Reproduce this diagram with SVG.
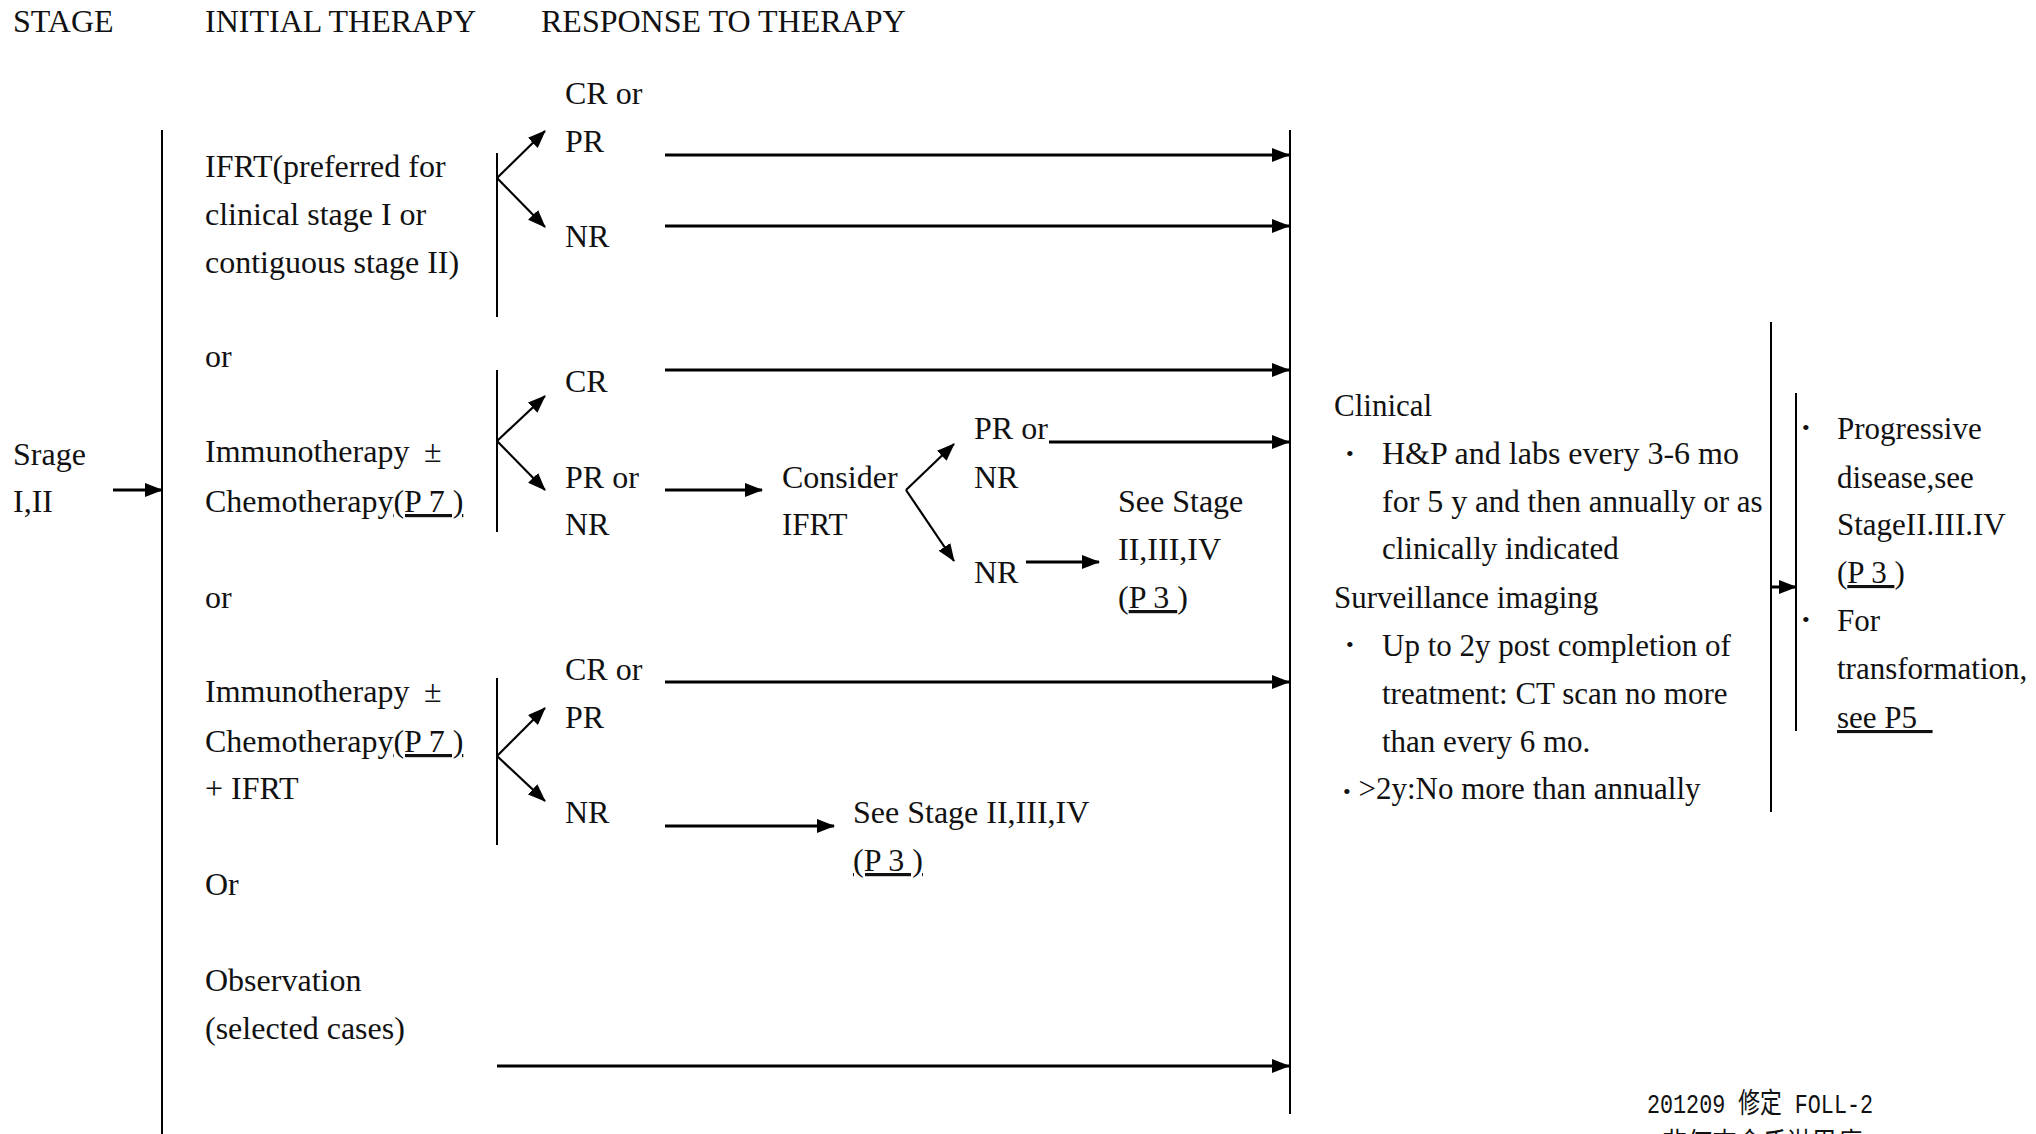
<svg xmlns="http://www.w3.org/2000/svg" width="2036" height="1134" viewBox="0 0 2036 1134">
<style>
text{font-family:"Liberation Serif","Times New Roman",serif;font-size:32px;fill:#111;}
.hd{font-size:32px;}
.n{font-size:31px;}
.u{text-decoration:underline;}
.bl{font-size:22px;}
.ln{stroke:#000;stroke-width:2;fill:none;}
.ar{stroke:#000;stroke-width:3;fill:none;marker-end:url(#ah);}
.dg{stroke:#000;stroke-width:2.2;fill:none;marker-end:url(#ah);}
.ft{font-family:"Liberation Mono","Noto Sans CJK TC",monospace;font-size:28px;}
</style>
<defs>
<marker id="ah" markerWidth="18" markerHeight="14" refX="17" refY="7" orient="auto" markerUnits="userSpaceOnUse">
<path d="M0,0 L18,7 L0,14 z" fill="#000"/>
</marker>
</defs>
<rect width="2036" height="1134" fill="#fff"/>

<g id="headers">
<text class="hd" x="13" y="32">STAGE</text>
<text class="hd" x="205" y="32">INITIAL THERAPY</text>
<text class="hd" x="541" y="32">RESPONSE TO THERAPY</text>
</g>

<g id="connectors">
<line class="ln" x1="162" y1="130" x2="162" y2="1134"/>
<line class="ar" x1="113" y1="490" x2="162" y2="490"/>
<line class="ln" x1="497" y1="153" x2="497" y2="317"/>
<line class="dg" x1="497" y1="178" x2="545" y2="131"/>
<line class="dg" x1="497" y1="178" x2="545" y2="227"/>
<line class="ar" x1="665" y1="155" x2="1289" y2="155"/>
<line class="ar" x1="665" y1="226" x2="1289" y2="226"/>
<line class="ln" x1="497" y1="370" x2="497" y2="532"/>
<line class="dg" x1="497" y1="441" x2="545" y2="396"/>
<line class="dg" x1="497" y1="441" x2="545" y2="490"/>
<line class="ar" x1="665" y1="370" x2="1289" y2="370"/>
<line class="ar" x1="665" y1="490" x2="762" y2="490"/>
<line class="dg" x1="906" y1="490" x2="954" y2="444"/>
<line class="dg" x1="906" y1="490" x2="954" y2="561"/>
<line class="ar" x1="1049" y1="442" x2="1289" y2="442"/>
<line class="ar" x1="1026" y1="562" x2="1099" y2="562"/>
<line class="ln" x1="497" y1="678" x2="497" y2="845"/>
<line class="dg" x1="497" y1="756" x2="545" y2="708"/>
<line class="dg" x1="497" y1="756" x2="545" y2="801"/>
<line class="ar" x1="665" y1="682" x2="1289" y2="682"/>
<line class="ar" x1="665" y1="826" x2="834" y2="826"/>
<line class="ar" x1="497" y1="1066" x2="1289" y2="1066"/>
<line class="ln" x1="1290" y1="130" x2="1290" y2="1114"/>
<line class="ln" x1="1771" y1="322" x2="1771" y2="812"/>
<line class="ln" x1="1796" y1="393" x2="1796" y2="731"/>
<line class="ar" x1="1771" y1="587" x2="1796" y2="587"/>
</g>

<g id="stage">
<text x="13" y="465">Srage</text>
<text x="13" y="512">I,II</text>
</g>

<g id="therapy-ifrt">
<text x="205" y="177">IFRT(preferred for</text>
<text x="205" y="225">clinical stage I or</text>
<text x="205" y="273">contiguous stage II)</text>
</g>
<g id="or1"><text x="205" y="367">or</text></g>
<g id="therapy-immuno">
<text x="205" y="462">Immunotherapy <tspan x="424">±</tspan></text>
<text x="205" y="512">Chemotherapy<tspan class="u">(P 7 )</tspan></text>
</g>
<g id="or2"><text x="205" y="608">or</text></g>
<g id="therapy-immuno-ifrt">
<text x="205" y="702">Immunotherapy <tspan x="424">±</tspan></text>
<text x="205" y="752">Chemotherapy<tspan class="u">(P 7 )</tspan></text>
<text x="205" y="799">+ IFRT</text>
</g>
<g id="or3"><text x="205" y="895">Or</text></g>
<g id="observation">
<text x="205" y="991">Observation</text>
<text x="205" y="1039">(selected cases)</text>
</g>

<g id="resp1-crpr"><text x="565" y="104">CR or</text><text x="565" y="152">PR</text></g>
<g id="resp1-nr"><text x="565" y="247">NR</text></g>
<g id="resp2-cr"><text x="565" y="392">CR</text></g>
<g id="resp2-prnr"><text x="565" y="488">PR or</text><text x="565" y="535">NR</text></g>
<g id="consider-ifrt"><text x="782" y="488">Consider</text><text class="n" x="782" y="535">IFRT</text></g>
<g id="resp2b-prnr"><text x="974" y="439">PR or</text><text x="974" y="488">NR</text></g>
<g id="resp2b-nr"><text x="974" y="583">NR</text></g>
<g id="see-stage-1">
<text x="1118" y="512">See Stage</text>
<text x="1118" y="560">II,III,IV</text>
<text x="1118" y="608" xml:space="preserve">(<tspan class="u">P 3 </tspan>)</text>
</g>
<g id="resp3-crpr"><text x="565" y="680">CR or</text><text x="565" y="728">PR</text></g>
<g id="resp3-nr"><text x="565" y="823">NR</text></g>
<g id="see-stage-2">
<text x="853" y="823">See Stage II,III,IV</text>
<text x="853" y="871" class="u">(P 3 )</text>
</g>

<g id="followup">
<text class="n" x="1334" y="416">Clinical</text>
<text class="bl" x="1346" y="461">•</text>
<text x="1382" y="464">H&amp;P and labs every 3-6 mo</text>
<text class="n" x="1382" y="512"><tspan style="font-size:32px">for 5 y</tspan> and then annually or as</text>
<text class="n" x="1382" y="559">clinically indicated</text>
<text class="n" x="1334" y="608">Surveillance imaging</text>
<text class="bl" x="1346" y="652">•</text>
<text class="n" x="1382" y="656">Up to 2y post completion of</text>
<text class="n" x="1382" y="704">treatment: CT scan no more</text>
<text class="n" x="1382" y="752">than every 6 mo.</text>
<text class="n" x="1343" y="799"><tspan class="bl">•</tspan> &gt;2y:No more than annually</text>
</g>

<g id="progression">
<text class="bl" x="1802" y="435">•</text>
<text class="n" x="1837" y="439">Progressive</text>
<text class="n" x="1837" y="488">disease,see</text>
<text class="n" x="1837" y="535">StageII.III.IV</text>
<text class="n" x="1837" y="583" xml:space="preserve">(<tspan class="u">P 3 </tspan>)</text>
<text class="bl" x="1802" y="627">•</text>
<text class="n" x="1837" y="631">For</text>
<text class="n" x="1837" y="679">transformation,</text>
<text class="n u" x="1837" y="728" xml:space="preserve">see P5  </text>
</g>

<g id="footer">
<text class="ft" x="1647" y="1113" textLength="226" lengthAdjust="spacingAndGlyphs">201209 修定 FOLL-2</text>
<text class="ft" x="1662" y="1153" textLength="200" lengthAdjust="spacingAndGlyphs">非何杰金氏淋巴瘤</text>
</g>
</svg>
